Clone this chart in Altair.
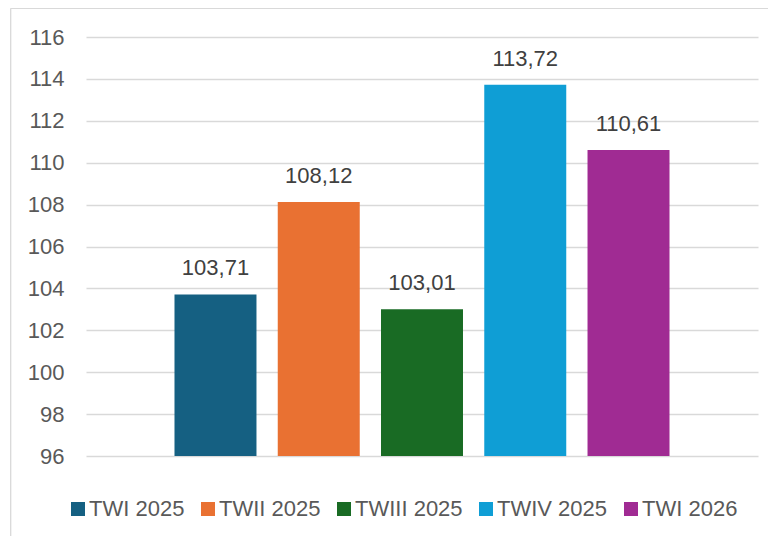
import altair as alt
import pandas as pd

series = ["TWI 2025", "TWII 2025", "TWIII 2025", "TWIV 2025", "TWI 2026"]
values = [103.71, 108.12, 103.01, 113.72, 110.61]
colors = ["#156082", "#E97132", "#196B24", "#0F9ED5", "#A02B93"]
y_ticks = list(range(96, 117, 2))

df = pd.DataFrame({
    "series": series,
    "value": values,
    "label": [f"{v:.2f}".replace(".", ",") for v in values],
})

FONT = "Liberation Sans"
FS = 22

x_enc = alt.X(
    "series:N",
    sort=series,
    axis=None,
    scale=alt.Scale(paddingInner=0.206, paddingOuter=0.857),
)
y_scale = alt.Scale(domain=[96, 116], nice=False, zero=False)

base = alt.Chart(df)

bars = base.mark_bar(clip=True).encode(
    x=x_enc,
    y=alt.Y(
        "value:Q",
        scale=y_scale,
        title=None,
        axis=alt.Axis(
            values=y_ticks,
            grid=True,
            ticks=False,
            domain=False,
            labelFontSize=FS,
            labelFont=FONT,
            labelColor="#595959",
            labelPadding=22,
            gridColor="#D9D9D9",
            gridWidth=1.3,
        ),
    ),
    color=alt.Color(
        "series:N",
        sort=series,
        scale=alt.Scale(domain=series, range=colors),
        legend=alt.Legend(
            title=None,
            orient="none",
            direction="horizontal",
            legendX=-19,
            legendY=461,
            symbolType="square",
            symbolSize=196,
            symbolStrokeWidth=0,
            symbolOpacity=1,
            labelFontSize=FS,
            labelFont=FONT,
            labelColor="#595959",
            labelOffset=0,
            columnPadding=12,
        ),
    ),
)

labels = base.mark_text(
    baseline="alphabetic",
    dy=-19,
    fontSize=FS,
    font=FONT,
    color="#404040",
).encode(
    x=x_enc,
    y=alt.Y("value:Q", scale=y_scale),
    text="label:N",
)

frame_df = pd.DataFrame({"a": [0]})
frame_left = alt.Chart(frame_df).mark_rule(color="#D9D9D9", strokeWidth=1.3).encode(
    x=alt.value(-75.3), y=alt.value(-28.7), y2=alt.value(520)
)
frame_top = alt.Chart(frame_df).mark_rule(color="#D9D9D9", strokeWidth=1.3).encode(
    x=alt.value(-75.3), x2=alt.value(700), y=alt.value(-28.7)
)

chart = alt.layer(frame_left, frame_top, bars, labels).properties(
    width=672,
    height=419,
    autosize=alt.AutoSizeParams(type="none"),
    padding={"left": 78, "top": 29, "right": 10, "bottom": 80},
    background="white",
).configure_view(stroke=None)

chart.save("out.html", embed_options={"renderer": "svg", "actions": False})
